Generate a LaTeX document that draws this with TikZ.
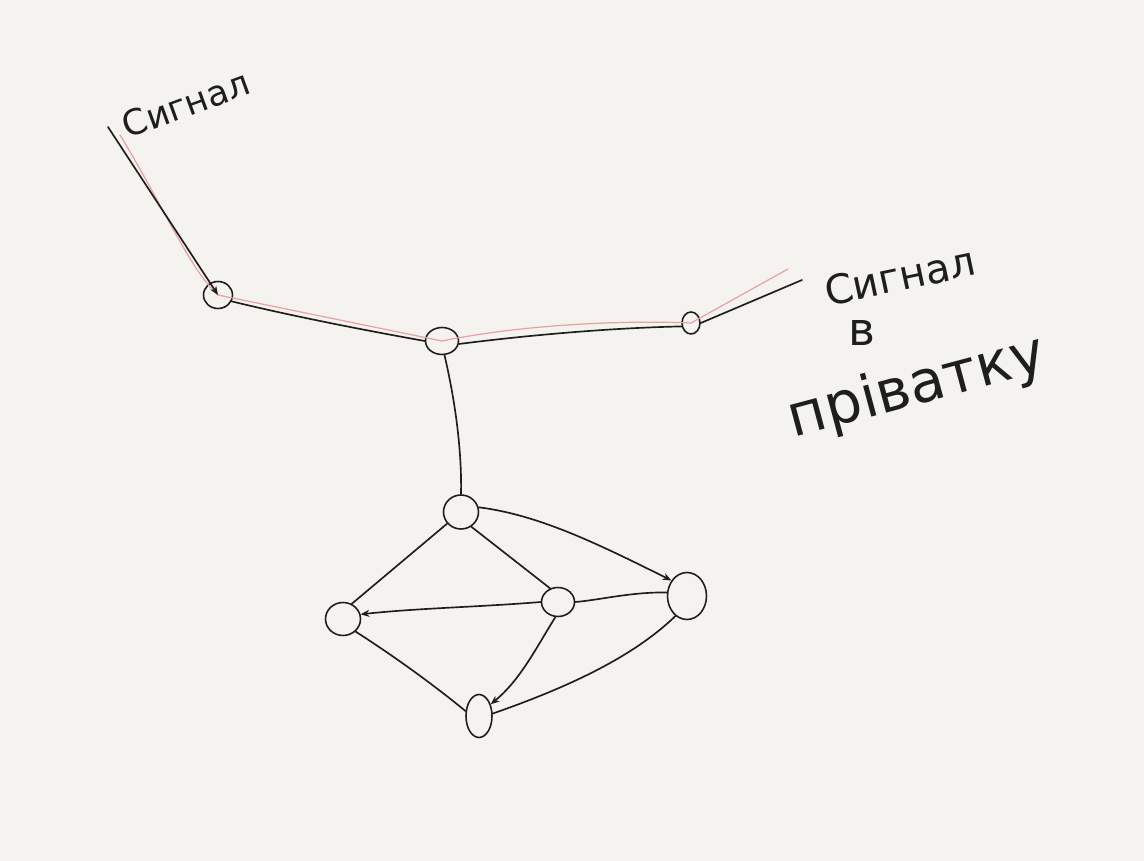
\documentclass[tikz,border=0pt]{standalone}
\usepackage{fontspec}
\setmainfont{DejaVu Sans}
\usetikzlibrary{shapes.geometric,arrows.meta}
\definecolor{paper}{HTML}{F4F3F0}
\definecolor{ink}{HTML}{1E1E1E}
\definecolor{redpen}{HTML}{E8A2A2}
\tikzset{
  hnode/.style={draw=ink, ellipse, inner sep=0pt, line width=0.9pt},
  edge/.style={draw=ink, line width=0.95pt, line cap=round},
  redline/.style={draw=redpen, line width=0.7pt, line cap=round, line join=round},
  tip/.style={-{Stealth[length=5pt,width=4pt]}},
  hand/.style={text=ink, inner sep=0pt}
}
\begin{document}
\begin{tikzpicture}[x=0.02cm,y=-0.02cm]
\fill[paper] (0,0) rectangle (1144,861);
\useasboundingbox (0,0) rectangle (1144,861);

% upper chain nodes
\node[hnode, minimum width=0.58cm, minimum height=0.54cm] (A) at (218,295) {};
\node[hnode, minimum width=0.66cm, minimum height=0.54cm] (B) at (442,341) {};
\node[hnode, minimum width=0.36cm, minimum height=0.44cm] (C) at (691,323) {};

% lower graph nodes
\node[hnode, minimum width=0.70cm, minimum height=0.68cm] (D) at (461,512) {};
\node[hnode, minimum width=0.70cm, minimum height=0.66cm] (E) at (343,619) {};
\node[hnode, minimum width=0.66cm, minimum height=0.58cm] (F) at (558,602) {};
\node[hnode, minimum width=0.78cm, minimum height=0.94cm] (G) at (687,596) {};
\node[hnode, minimum width=0.52cm, minimum height=0.86cm] (H) at (479,716) {};

% free ends
\coordinate (s0) at (108,127);
\coordinate (r0) at (120,135);
\coordinate (e1) at (802,280);
\coordinate (r1) at (788,269);

% red signal path
\draw[redline] (r0) .. controls (160,200) and (190,270) .. (A.center)
  -- (B.center) .. controls (520,325) and (620,320) .. (C.center) -- (r1);

% black connectors, upper part
\draw[edge,tip] (s0) -- (A.center);
\draw[edge] (A.-25) .. controls (300,318) and (380,333) .. (B.west);
\draw[edge] (B.-10) .. controls (530,335) and (610,328) .. (C.-160);
\draw[edge] (C.east) -- (e1);
\draw[edge] (B.-80) .. controls (455,400) and (462,450) .. (D.north);

% lower graph connectors
\draw[edge] (D.-140) -- (E.60);
\draw[edge] (D.-55) -- (F.120);
\draw[edge,tip] (D.15) .. controls (540,515) and (600,545) .. (G.135);
\draw[edge,tip] (F.180) .. controls (480,607) and (420,608) .. (E.15);
\draw[edge] (G.170) .. controls (630,592) and (600,600) .. (F.0);
\draw[edge,tip] (F.-100) .. controls (535,650) and (520,680) .. (H.45);
\draw[edge] (E.-45) .. controls (400,660) and (440,690) .. (H.160);
\draw[edge] (H.10) .. controls (560,690) and (630,660) .. (G.-120);

% handwritten labels
\node[hand, rotate=20, font=\fontsize{20}{24}\selectfont] (t1) at (186,104) {Сигнал};
\node[hand, rotate=12, font=\fontsize{23}{28}\selectfont] (t2) at (900,276) {Сигнал};
\node[hand, font=\fontsize{26}{30}\selectfont] (t3) at (862,333) {в};
\node[hand, rotate=15, font=\fontsize{33}{36}\selectfont] (t4) at (917,388) {прівaтку};
\end{tikzpicture}
\end{document}
